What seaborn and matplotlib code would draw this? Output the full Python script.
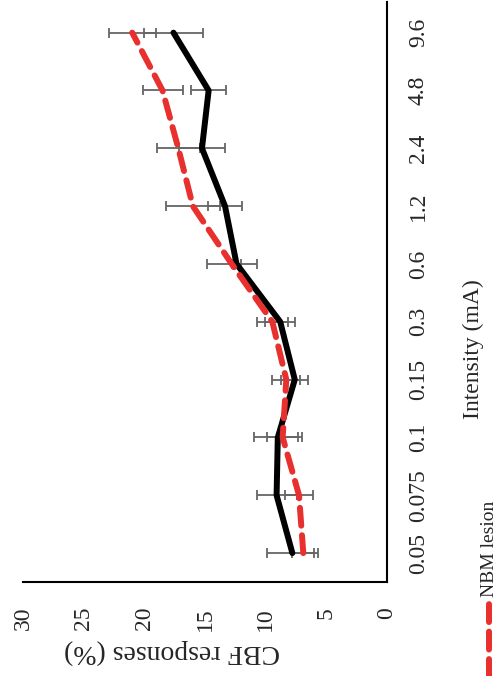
import numpy as np
import pandas as pd
import matplotlib
matplotlib.use("Agg")
import matplotlib.pyplot as plt
import seaborn as sns
from matplotlib.lines import Line2D

intensity = ['0.05', '0.075', '0.1', '0.15', '0.3', '0.6', '1.2', '2.4', '4.8', '9.6']
control_mean = [7.8, 9.1, 9.0, 7.6, 8.8, 12.4, 13.35, 15.25, 14.7, 17.6]
control_sem = [2.1, 1.65, 2.0, 1.1, 1.25, 0.4, 1.4, 1.9, 1.45, 2.4]
lesion_mean = [6.9, 7.25, 8.6, 8.3, 9.45, 12.8, 16.0, 17.2, 18.5, 21.0]
lesion_sem = [0.9, 1.15, 1.3, 1.15, 1.3, 2.05, 2.2, 1.75, 1.65, 1.95]
value_ticks = [0, 5, 10, 15, 20, 25, 30]

sns.set_theme(style='white')
plt.rcParams['font.family'] = ['Liberation Serif', 'DejaVu Serif']

pos = np.arange(len(intensity))
df = pd.concat([
    pd.DataFrame({'pos': pos, 'value': control_mean, 'sem': control_sem, 'group': 'Control'}),
    pd.DataFrame({'pos': pos, 'value': lesion_mean, 'sem': lesion_sem, 'group': 'NBM lesion'}),
], ignore_index=True)

fig = plt.figure(figsize=(5.04, 6.76), dpi=100)
ax = fig.add_axes([23/504, 94/676, 364/504, 580/676])

# error bars first so the lines sit on top
for g, sub in df.groupby('group'):
    ax.errorbar(sub['value'], sub['pos'], xerr=sub['sem'], fmt='none',
                ecolor='#666666', elinewidth=1.3, capsize=3.4, capthick=1.3, zorder=1)

sns.lineplot(data=df, x='value', y='pos', hue='group', style='group', orient='y',
             palette={'Control': 'black', 'NBM lesion': '#E8302E'},
             dashes={'Control': '', 'NBM lesion': (3.0, 1.6)},
             lw=4.3, legend=False, ax=ax, zorder=3,
             dash_capstyle='round', solid_capstyle='round', solid_joinstyle='round')

ax.set_xlim(30, 0)
ax.set_ylim(-0.5, 9.53)
ax.set_xticks(value_ticks)
ax.set_xticklabels([str(t) for t in value_ticks], rotation=90, fontsize=17)
ax.tick_params(axis='x', length=0, pad=18)
ax.yaxis.tick_right()
ax.set_yticks(pos)
ax.set_yticklabels(intensity, rotation=90, fontsize=17, va='center')
ax.tick_params(axis='y', length=0, pad=15)

for s in ['top', 'left']:
    ax.spines[s].set_visible(False)
for s in ['right', 'bottom']:
    ax.spines[s].set_color('black')
    ax.spines[s].set_linewidth(1.5)

ax.set_xlabel('CBF responses (%)', fontsize=20, rotation=180)
ax.xaxis.set_label_coords(0.409, -0.098)
ax.yaxis.set_label_position('right')
ax.set_ylabel('Intensity (mA)', fontsize=17, rotation=90)
ax.yaxis.set_label_coords(1.209, 0.401)

# legend entry (rest of it is cropped away in the original)
fig.add_artist(Line2D([489/504, 489/504], [-0.02, 1 - 599/676], transform=fig.transFigure,
                      color='#E8302E', lw=4.3, ls=(0, (3.0, 1.6)), dash_capstyle='round'))
fig.text(489/504, 1 - 597/676, 'NBM lesion', rotation=90, ha='center', va='bottom', fontsize=14)

fig.savefig('out.png', dpi=100)
